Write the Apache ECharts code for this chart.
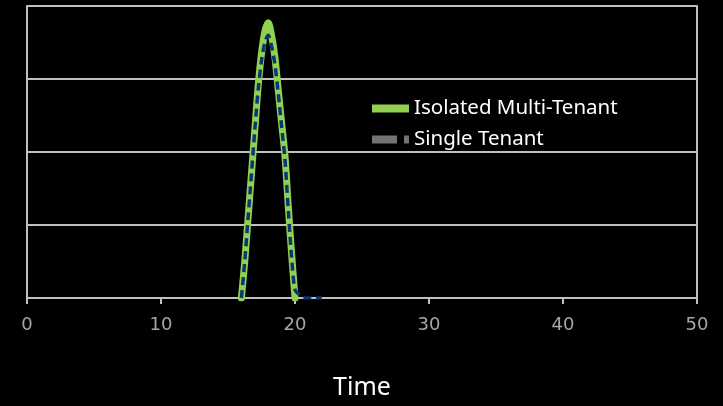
<!DOCTYPE html>
<html>
<head>
<meta charset="utf-8">
<script src="https://cdn.jsdelivr.net/npm/echarts@6/dist/echarts.min.js"></script>
<style>
html,body{margin:0;padding:0;background:#000;}
#c{width:723px;height:406px;}
</style>
</head>
<body>
<div id="c"></div>
<script>
var seriesNames = ['Isolated Multi-Tenant', 'Single Tenant'];
var multiTime  = [16, 16.25, 16.5, 16.75, 17, 17.25, 17.5, 17.75, 18, 18.25, 18.5, 18.75, 19, 19.25, 19.5, 19.75, 20];
var multiValue = [0, 0.5, 1.1, 1.7, 2.3, 2.9, 3.35, 3.65, 3.77, 3.6, 3.3, 2.85, 2.4, 1.95, 1.25, 0.6, 0];
var singleTime  = [16, 16.25, 16.5, 16.75, 17, 17.25, 17.5, 17.75, 18, 18.25, 18.5, 18.75, 19, 19.25, 19.5, 19.75, 20, 20.3, 20.65, 21, 21.5, 22];
var singleValue = [0, 0.5, 1.1, 1.7, 2.3, 2.85, 3.25, 3.5, 3.6, 3.45, 3.2, 2.8, 2.35, 1.9, 1.2, 0.55, 0.11, 0.05, 0, 0, 0, 0];
var xTicks = { min: 0, max: 50, interval: 10 };
var yTicks = { min: 0, max: 4, interval: 1 };
var xName = 'Time';

function pairs(xs, ys) { return xs.map(function (x, i) { return [x, ys[i]]; }); }

var chart = echarts.init(document.getElementById('c'));
var axisGray = '#bfbfbf';
chart.setOption({
  backgroundColor: '#000',
  animation: false,
  grid: { left: 27, right: 26, top: 6, bottom: 108 },
  legend: {
    orient: 'vertical',
    left: 367,
    top: 93,
    itemWidth: 37,
    itemHeight: 8,
    itemGap: 10,
    textStyle: { color: '#ffffff', fontFamily: 'Noto Sans', fontSize: 20.5, lineHeight: 20 },
    data: [
      { name: seriesNames[0], icon: 'rect', itemStyle: { color: '#92d050' } },
      { name: seriesNames[1], icon: 'path://M0,0H25V8H0Z M32,0H37V8H32Z', itemStyle: { color: '#737373' } }
    ]
  },
  xAxis: {
    type: 'value',
    min: xTicks.min, max: xTicks.max, interval: xTicks.interval,
    name: xName,
    nameLocation: 'middle',
    nameGap: 77,
    nameTextStyle: { color: '#ffffff', fontFamily: 'Noto Sans', fontSize: 25 },
    axisLine: { show: true, lineStyle: { color: axisGray, width: 2 } },
    axisTick: { show: true, length: 6, lineStyle: { color: axisGray, width: 2 } },
    axisLabel: { color: '#a6a6a6', fontFamily: 'DejaVu Sans', fontSize: 18, margin: 18 },
    splitLine: { show: false }
  },
  yAxis: [{
    type: 'value',
    min: yTicks.min, max: yTicks.max, interval: yTicks.interval,
    axisLine: { show: true, lineStyle: { color: axisGray, width: 2 } },
    axisTick: { show: false },
    axisLabel: { show: false },
    splitLine: { show: true, lineStyle: { color: axisGray, width: 2 } }
  }, {
    type: 'value', position: 'right',
    min: yTicks.min, max: yTicks.max, interval: yTicks.interval,
    axisLine: { show: true, lineStyle: { color: axisGray, width: 2 } },
    axisTick: { show: false },
    axisLabel: { show: false },
    splitLine: { show: false }
  }],
  series: [{
    name: seriesNames[0],
    type: 'line',
    data: pairs(multiTime, multiValue),
    showSymbol: false,
    smooth: 0.3,
    lineStyle: { color: '#92d050', width: 7, cap: 'round', join: 'round' },
    itemStyle: { color: '#92d050' },
    z: 3
  }, {
    name: seriesNames[1],
    type: 'line',
    data: pairs(singleTime, singleValue),
    showSymbol: false,
    smooth: 0.3,
    lineStyle: { color: '#0b3674', width: 3.5, type: [8, 5] },
    itemStyle: { color: '#737373' },
    z: 4
  }]
});
</script>
</body>
</html>
